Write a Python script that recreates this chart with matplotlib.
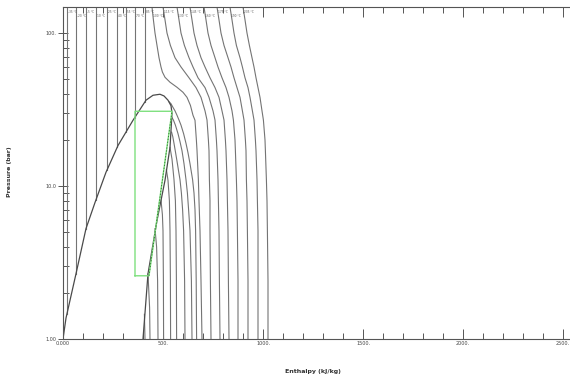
import numpy as np
import matplotlib
matplotlib.use('Agg')
import matplotlib.pyplot as plt
from matplotlib.ticker import FixedLocator, NullFormatter

# saturation dome (enthalpy kJ/kg, pressure bar)
dome_h = [0, 15, 65, 115, 160, 215, 275, 350, 415, 450, 485, 505, 525, 540, 545, 535, 510, 470, 425, 400]
dome_p = [1.0, 1.37, 2.67, 5.27, 7.8, 12.3, 18.4, 26.9, 36.4, 39.2, 39.8, 38.8, 36.4, 33.5, 29.9, 17.9, 10.9, 5.94, 2.67, 1.0]

# subcritical isotherms: liquid part (vertical) + vapour part
sub_labels = ['-35 °C', '-20 °C', '-5 °C', '10 °C', '25 °C', '40 °C', '55 °C', '70 °C', '85 °C']
liq_h = [20, 65, 115, 165, 220, 270, 315, 360, 410]
psat = [1.45, 2.67, 5.27, 8.1, 12.8, 17.9, 22.5, 28, 35.6]
vap_h = [
    [407, 410],
    [425, 433, 435],
    [460, 468, 473, 475],
    [490, 497, 500, 502, 503],
    [517, 525, 532, 535, 537, 538],
    [535, 545, 555, 562, 565, 567, 568],
    [543, 549, 555, 563, 572, 578, 585, 592, 598, 603, 608, 610],
    [545, 552, 562, 575, 585, 595, 605, 615, 622, 628, 635, 642, 645],
    [530, 540, 548, 560, 570, 580, 590, 603, 615, 625, 635, 648, 655, 660, 663, 666, 668],
]
vap_p = [
    [1.45, 1.0],
    [2.67, 1.6, 1.0],
    [5.27, 4.0, 2.4, 1.0],
    [8.1, 6.5, 5.1, 2.4, 1.0],
    [12.8, 10.9, 8.0, 5.1, 2.4, 1.0],
    [17.9, 15, 11, 8, 5.1, 2.4, 1.0],
    [22.5, 21, 19, 16.5, 14, 12.5, 11, 9, 7, 5.1, 2.4, 1.0],
    [28, 27, 25, 22, 19.5, 17, 14, 11, 9, 7, 5.1, 2.4, 1.0],
    [35.6, 34.5, 33, 31, 29, 27, 25, 22, 19, 16.5, 14, 11, 9, 7, 5.1, 2.4, 1.0],
]

# isotherm just above the critical point
s1_label = '100 °C'
s1_h = [445, 452, 460, 470, 480, 490, 497, 510, 535, 570, 600, 620, 637, 650, 660, 667, 670, 677, 680, 685, 690, 695]
s1_p = [148, 122, 100, 83, 69, 60, 55.6, 51.4, 47.7, 44.2, 41.0, 38.0, 33.7, 29.0, 26.9, 19.9, 17.1, 10.9, 8.0, 5.1, 2.4, 1.0]

# other supercritical isotherms on a common pressure grid
sup_labels = ['115 °C', '130 °C', '145 °C', '160 °C', '175 °C', '190 °C', '205 °C']
sup_p = [148, 122, 100, 83, 69, 60, 51, 44, 38, 31, 27, 20, 17, 11, 8, 5.1, 2.4, 1.0]
sup_h = [
    [500, 510, 520, 537, 560, 590, 630, 665, 690, 710, 720, 727, 730, 732, 735, 735, 737, 740],
    [570, 580, 590, 607, 630, 650, 675, 710, 730, 750, 760, 767, 770, 775, 777, 780, 782, 785],
    [635, 645, 655, 670, 690, 710, 735, 760, 780, 795, 805, 812, 815, 820, 822, 825, 827, 830],
    [705, 715, 725, 740, 760, 775, 795, 815, 830, 845, 852, 860, 862, 867, 870, 872, 875, 875],
    [770, 780, 790, 805, 825, 840, 855, 870, 885, 897, 905, 912, 915, 917, 920, 922, 925, 925],
    [835, 845, 855, 867, 885, 897, 910, 925, 935, 947, 955, 962, 965, 970, 972, 975, 975, 975],
    [900, 910, 920, 932, 945, 955, 965, 975, 985, 995, 1002, 1010, 1012, 1017, 1020, 1022, 1025, 1025],
]

# refrigeration cycle
cycle_h = [360, 430, 545, 360, 360]
cycle_p = [2.59, 2.59, 30.8, 30.8, 2.59]

p_top = 148

fig = plt.figure(figsize=(5.7, 3.78), dpi=100)
ax = fig.add_axes([63/570, 39/378, 512/570, 332/378])
ax.set_yscale('log')

iso_col = '#747474'
lab_kw = dict(fontsize=2.1, color='#555555', va='top')
lab_y = [141, 134]   # labels alternate between two rows
for i in range(len(liq_h)):
    ax.plot([liq_h[i], liq_h[i]], [p_top, psat[i]], color=iso_col, lw=0.8)
    ax.plot(vap_h[i], vap_p[i], color=iso_col, lw=0.8)
    ax.text(liq_h[i] + 6, lab_y[i % 2], sub_labels[i], **lab_kw)
ax.plot(s1_h, s1_p, color=iso_col, lw=0.8)
ax.text(s1_h[0] + 6, lab_y[len(liq_h) % 2], s1_label, **lab_kw)
for i in range(len(sup_h)):
    ax.plot(sup_h[i], sup_p, color=iso_col, lw=0.8)
    ax.text(sup_h[i][0] + 6, lab_y[(len(liq_h) + 1 + i) % 2], sup_labels[i], **lab_kw)

ax.plot(dome_h, dome_p, color='#4a4a4a', lw=0.9)

ax.plot(cycle_h, cycle_p, color='#7fe07f', lw=1.0)
ax.plot(cycle_h[1:3], cycle_p[1:3], color='#2f6f2f', lw=0.6, ls=(0, (1.5, 2)))

ax.set_xlim(0, 2560)
ax.set_ylim(1, p_top)

# axes styling
for s in ['top', 'bottom', 'left']:
    ax.spines[s].set_color('#555555')
    ax.spines[s].set_linewidth(0.8)
ax.spines['right'].set_visible(False)

ax.xaxis.set_major_locator(FixedLocator([0, 500, 1000, 1500, 2000, 2500]))
ax.xaxis.set_minor_locator(FixedLocator(np.arange(100, 2600, 100)))
ax.set_xticklabels(['0.000', '500.', '1000.', '1500.', '2000.', '2500.'])
ax.yaxis.set_major_locator(FixedLocator([1, 10, 100]))
ax.yaxis.set_minor_locator(FixedLocator([2, 3, 4, 5, 6, 7, 8, 9, 20, 30, 40, 50, 60, 70, 80, 90]))
ax.yaxis.set_minor_formatter(NullFormatter())
ax.set_yticklabels(['1.00', '10.0', '100.'])

ax.tick_params(axis='x', which='major', direction='in', length=7, width=0.7, color='#555555',
               labelsize=3.5, labelcolor='#444444', pad=1.5, top=True)
ax.tick_params(axis='x', which='minor', direction='in', length=4, width=0.7, color='#555555', top=True)
ax.tick_params(axis='y', which='major', direction='inout', length=7, width=0.7, color='#555555',
               labelsize=3.5, labelcolor='#444444', pad=1)
ax.tick_params(axis='y', which='minor', direction='in', length=4, width=0.7, color='#555555')

fig.text(313/570, 1 - 372/378, 'Enthalpy (kJ/kg)', fontsize=4.5, fontweight='bold',
         ha='center', va='center', color='#333333')
fig.text(10/570, 1 - 172/378, 'Pressure (bar)', fontsize=4.5, fontweight='bold',
         ha='center', va='center', rotation=90, color='#333333')

fig.savefig('out.png', dpi=100)
